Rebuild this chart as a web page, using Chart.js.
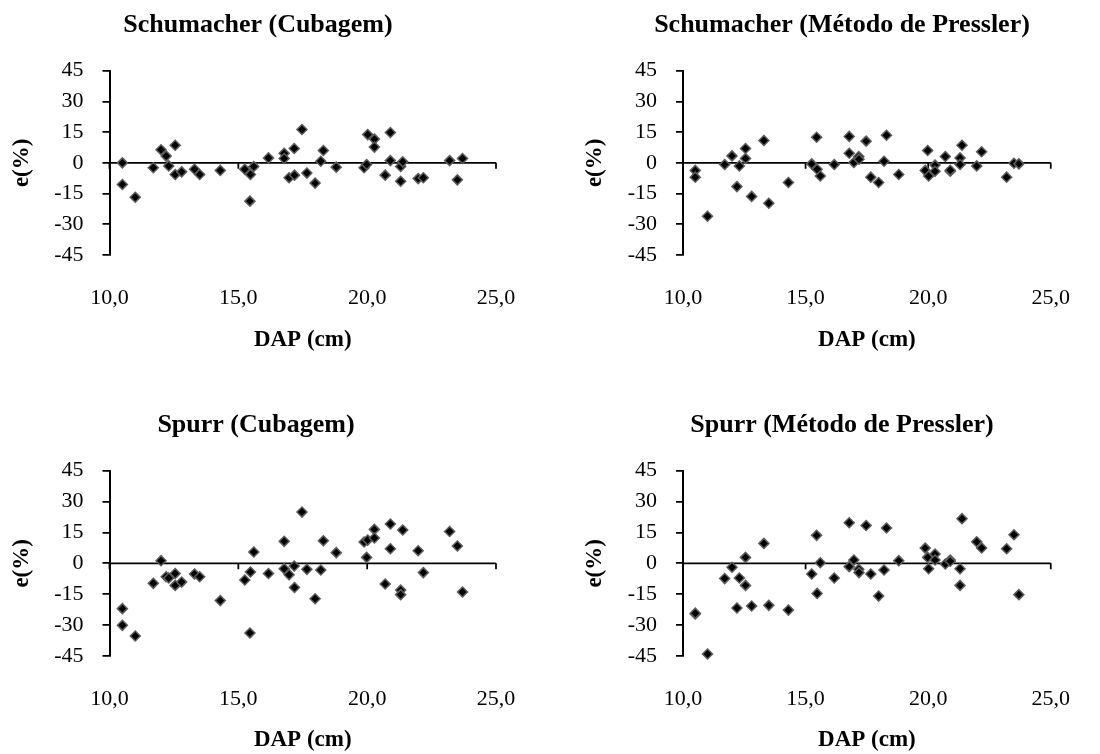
<!DOCTYPE html>
<html>
<head>
<meta charset="utf-8">
<script src="https://cdn.jsdelivr.net/npm/chart.js@4.4.1/dist/chart.umd.min.js"></script>
<style>
  html, body { margin: 0; padding: 0; background: #fff; overflow: hidden; }
  #wrap { position: relative; width: 1100px; height: 754px; }
  canvas { position: absolute; }
</style>
</head>
<body>
<div id="wrap">
  <canvas id="c1"></canvas>
  <canvas id="c2"></canvas>
  <canvas id="c3"></canvas>
  <canvas id="c4"></canvas>
</div>
<script>
// DAP (cm) of each tree, shared by all four panels
const dap = [10.5, 10.5, 11.0, 11.7, 12.0, 12.2, 12.3, 12.55, 12.55, 12.8,
  13.3, 13.5, 14.3, 15.25, 15.45, 15.47, 15.6, 16.17, 16.78, 16.78,
  16.97, 17.17, 17.18, 17.47, 17.66, 17.98, 18.2, 18.3, 18.8, 19.88,
  19.98, 20.02, 20.28, 20.28, 20.7, 20.9, 20.9, 21.3, 21.3, 21.38,
  21.98, 22.18, 23.2, 23.5, 23.7];

// residuals e(%) per model / method
const schumacherCubagem = [0.0, -10.6, -16.8, -2.4, 6.4, 3.3, -1.5, 8.6, -5.7, -4.4,
  -3.1, -5.7, -3.7, -3.1, -18.7, -5.7, -1.8, 2.4, 4.7, 2.1,
  -7.3, 7.0, -6.0, 16.3, -5.0, -9.9, 0.8, 6.0, -2.1, -2.4,
  -0.8, 13.8, 11.6, 7.7, -6.0, 14.8, 1.1, -1.8, -9.0, 0.5,
  -7.7, -7.3, 1.1, -8.3, 2.1];
const schumacherPressler = [-3.7, -7.0, -26.1, -0.8, 3.4, -11.6, -1.5, 7.0, 2.1, -16.4,
  10.9, -19.7, -9.6, -0.5, 12.5, -3.1, -6.4, -0.8, 12.9, 4.7,
  0.2, 3.1, 1.8, 10.6, -7.0, -9.6, 0.8, 13.5, -5.7, -3.7,
  6.0, -6.4, -1.1, -4.1, 3.1, -4.1, -3.6, 2.4, -0.8, 8.6,
  -1.5, 5.4, -7.0, -0.2, -0.5];
const spurrCubagem = [-22.0, -30.1, -35.3, -9.7, 1.3, -6.5, -7.1, -4.9, -10.7, -9.1,
  -5.2, -6.5, -18.1, -8.1, -33.8, -4.2, 5.5, -4.9, 10.7, -2.6,
  -5.5, -1.3, -11.7, 24.9, -2.9, -17.2, -3.2, 11.0, 5.2, 10.4,
  2.9, 11.3, 16.5, 12.3, -10.0, 19.1, 7.1, -13.0, -15.2, 16.2,
  6.1, -4.5, 15.5, 8.4, -13.9];
const spurrPressler = [-24.6, -24.2, -44.0, -7.4, -1.9, -21.7, -7.1, 2.9, -10.7, -20.7,
  9.7, -20.4, -22.7, -5.2, 13.6, -14.6, 0.3, -7.1, 19.7, -1.6,
  1.6, -2.9, -4.5, 18.4, -5.2, -15.9, -3.2, 17.2, 1.3, 7.4,
  2.9, -2.6, 4.5, 1.6, -0.3, 1.6, 1.0, -2.6, -10.7, 21.7,
  10.5, 7.5, 7.1, 13.9, -15.2];

const xTicks = [10, 15, 20, 25];
const yTicks = [-45, -30, -15, 0, 15, 30, 45];

Chart.defaults.font.family = '"Liberation Serif", "Times New Roman", serif';
Chart.defaults.color = '#000';

// horizontal axis crossing at e = 0, with its small tick marks
const zeroAxis = {
  id: 'zeroAxis',
  beforeDatasetsDraw(chart) {
    const { ctx, scales: { x, y } } = chart;
    const y0 = y.getPixelForValue(0);
    ctx.save();
    ctx.strokeStyle = '#000';
    ctx.lineWidth = 1.75;
    ctx.beginPath();
    ctx.moveTo(x.left, y0);
    ctx.lineTo(x.right, y0);
    xTicks.forEach(v => {
      const px = x.getPixelForValue(v);
      ctx.moveTo(px, y0);
      ctx.lineTo(px, y0 + 6);
    });
    ctx.stroke();
    ctx.restore();
  }
};

// panel title, placed like the original
const panelTitle = {
  id: 'panelTitle',
  afterDraw(chart, args, opts) {
    const ctx = chart.ctx;
    ctx.save();
    ctx.font = 'bold 26px "Liberation Serif"';
    ctx.fillStyle = '#000';
    ctx.textAlign = 'center';
    ctx.textBaseline = 'alphabetic';
    ctx.fillText(opts.text, opts.x, opts.y);
    ctx.restore();
  }
};

const panels = [
  { id: 'c1', left: 0, top: 0, w: 550, h: 400, title: 'Schumacher (Cubagem)', values: schumacherCubagem,
    plotLeft: 109.5, plotRight: 496, plotTop: 70.7, plotBottom: 255, titleX: 258, titleY: 31.7, yTitleX: 22, xTitleY: 340 },
  { id: 'c2', left: 550, top: 0, w: 550, h: 400, title: 'Schumacher (Método de Pressler)', values: schumacherPressler,
    plotLeft: 133, plotRight: 520.7, plotTop: 70.7, plotBottom: 255, titleX: 292, titleY: 31.7, yTitleX: 45.5, xTitleY: 340 },
  { id: 'c3', left: 0, top: 400, w: 550, h: 354, title: 'Spurr (Cubagem)', values: spurrCubagem,
    plotLeft: 109.5, plotRight: 496, plotTop: 70.7, plotBottom: 256, titleX: 256, titleY: 31.7, yTitleX: 22, xTitleY: 340 },
  { id: 'c4', left: 550, top: 400, w: 550, h: 354, title: 'Spurr (Método de Pressler)', values: spurrPressler,
    plotLeft: 133, plotRight: 520.7, plotTop: 70.7, plotBottom: 256, titleX: 292, titleY: 31.7, yTitleX: 45.5, xTitleY: 340 }
];

function makePanel(p) {
  const canvas = document.getElementById(p.id);
  canvas.width = p.w;
  canvas.height = p.h;
  canvas.style.left = p.left + 'px';
  canvas.style.top = p.top + 'px';

  const axisTitleFont = { size: 23, weight: 'bold', lineHeight: 1.2 };
  const halfLine = 23 * 1.2 / 2;

  return new Chart(canvas.getContext('2d'), {
    type: 'scatter',
    data: {
      datasets: [{
        data: dap.map((d, i) => ({ x: d, y: p.values[i] })),
        clip: false,
        pointStyle: 'rectRot',
        pointRadius: 5,
        pointHoverRadius: 5,
        pointBorderWidth: 1.5,
        pointBackgroundColor: '#000',
        pointBorderColor: '#5c5c5c'
      }]
    },
    options: {
      responsive: false,
      animation: false,
      devicePixelRatio: 1,
      events: [],
      layout: { padding: { top: p.plotTop, right: p.w - p.plotRight, left: 0, bottom: 0 } },
      plugins: {
        legend: { display: false },
        tooltip: { enabled: false },
        title: { display: false },
        panelTitle: { text: p.title, x: p.titleX, y: p.titleY }
      },
      scales: {
        x: {
          type: 'linear',
          min: 10,
          max: 25,
          afterBuildTicks: s => { s.ticks = xTicks.map(v => ({ value: v })); },
          afterFit: s => { s.height = p.h - p.plotBottom; },
          grid: { display: false, drawTicks: false },
          border: { display: false },
          ticks: {
            padding: 30,
            maxRotation: 0,
            font: { size: 22 },
            callback: v => v.toFixed(1).replace('.', ',')
          },
          title: {
            display: true,
            text: 'DAP (cm)',
            font: axisTitleFont,
            padding: { top: 0, bottom: p.h - p.xTitleY - halfLine }
          }
        },
        y: {
          type: 'linear',
          min: -45,
          max: 45,
          afterBuildTicks: s => { s.ticks = yTicks.map(v => ({ value: v })); },
          afterFit: s => { s.width = p.plotLeft; },
          grid: { drawOnChartArea: false, drawTicks: true, tickLength: 7, color: '#000', lineWidth: 1.75 },
          border: { display: true, color: '#000', width: 2 },
          ticks: { padding: 19, font: { size: 22 } },
          title: {
            display: true,
            text: 'e(%)',
            font: axisTitleFont,
            padding: { top: p.yTitleX - halfLine, bottom: 0 }
          }
        }
      }
    },
    plugins: [zeroAxis, panelTitle]
  });
}

panels.forEach(makePanel);
</script>
</body>
</html>
